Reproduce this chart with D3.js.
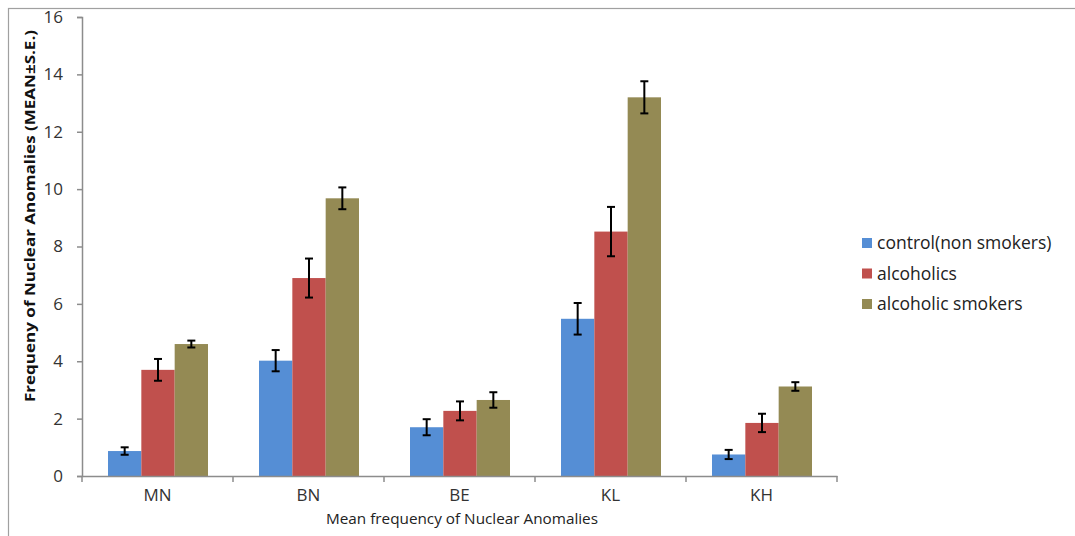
<!DOCTYPE html>
<html>
<head>
<meta charset="utf-8">
<script src="https://cdn.jsdelivr.net/npm/d3@7"></script>
<style>
  body { margin: 0; background: #fff; }
  svg text { font-family: "Open Sans", "Liberation Sans", sans-serif; }
</style>
</head>
<body>
<script>
// categories and series
const categories = ["MN", "BN", "BE", "KL", "KH"];
const seriesNames = ["control(non smokers)", "alcoholics", "alcoholic smokers"];
const controlMean = [0.87, 4.02, 1.70, 5.48, 0.75];
const controlSE = [0.13, 0.37, 0.28, 0.55, 0.16];
const alcoholicsMean = [3.70, 6.90, 2.27, 8.52, 1.85];
const alcoholicsSE = [0.38, 0.68, 0.33, 0.86, 0.32];
const smokersMean = [4.60, 9.68, 2.65, 13.20, 3.12];
const smokersSE = [0.12, 0.38, 0.27, 0.56, 0.15];
const yTicks = [0, 2, 4, 6, 8, 10, 12, 14, 16];
const colors = ["#558ED5", "#C0504D", "#948A54"];

const means = [controlMean, alcoholicsMean, smokersMean];
const errs = [controlSE, alcoholicsSE, smokersSE];

const w = 1075, h = 536;

const svg = d3.select("body").append("svg")
  .attr("width", w).attr("height", h);

// outer frame
svg.append("rect")
  .attr("x", 8.5).attr("y", 8.5)
  .attr("width", w + 10).attr("height", h + 10)
  .attr("fill", "none").attr("stroke", "#a0a0a0").attr("stroke-width", 1.2);

const y = d3.scaleLinear().domain([0, 16]).range([476, 17]);
const x0 = d3.scaleBand().domain(categories).range([82, 837]).padding(0);
const x1 = d3.scaleBand().domain(d3.range(3))
  .range([26, x0.bandwidth() - 25]).padding(0);

// y axis
const yAxis = svg.append("g")
  .attr("transform", "translate(82,0)")
  .call(d3.axisLeft(y).tickValues(yTicks).tickSize(5).tickPadding(14));
yAxis.select(".domain").attr("stroke", "#8c8c8c").attr("stroke-width", 1.5);
yAxis.selectAll(".tick line").attr("stroke", "#8c8c8c").attr("stroke-width", 1.5);
yAxis.selectAll(".tick text").attr("font-size", 17).attr("fill", "#333")
  .attr("font-family", "Open Sans, sans-serif");

// bars
const groups = svg.selectAll(".cat")
  .data(categories)
  .enter().append("g")
  .attr("class", "cat")
  .attr("transform", d => "translate(" + x0(d) + ",0)");

groups.selectAll("rect")
  .data((d, i) => means.map((m, s) => ({s: s, v: m[i], e: errs[s][i]})))
  .enter().append("rect")
  .attr("x", d => x1(d.s))
  .attr("width", x1.bandwidth())
  .attr("y", d => y(d.v))
  .attr("height", d => y(0) - y(d.v))
  .attr("fill", d => colors[d.s]);

// error bars
const eb = groups.selectAll(".err")
  .data((d, i) => means.map((m, s) => ({s: s, v: m[i], e: errs[s][i]})))
  .enter().append("g").attr("class", "err")
  .attr("stroke", "#000").attr("stroke-width", 2);
eb.append("line")
  .attr("x1", d => x1(d.s) + x1.bandwidth() / 2)
  .attr("x2", d => x1(d.s) + x1.bandwidth() / 2)
  .attr("y1", d => y(d.v + d.e)).attr("y2", d => y(d.v - d.e));
[1, -1].forEach(sign => {
  eb.append("line")
    .attr("x1", d => x1(d.s) + x1.bandwidth() / 2 - 4)
    .attr("x2", d => x1(d.s) + x1.bandwidth() / 2 + 4)
    .attr("y1", d => y(d.v + sign * d.e)).attr("y2", d => y(d.v + sign * d.e));
});

// x axis
const xAxis = svg.append("g")
  .attr("transform", "translate(0,476)")
  .call(d3.axisBottom(x0).tickSize(0).tickPadding(13));
xAxis.select(".domain").attr("stroke", "#8c8c8c").attr("stroke-width", 1.5);
xAxis.selectAll(".tick text").attr("font-size", 17).attr("fill", "#333");
svg.append("g").selectAll("line")
  .data(categories.concat(["end"]))
  .enter().append("line")
  .attr("x1", (d, i) => x0.range()[0] + i * x0.step())
  .attr("x2", (d, i) => x0.range()[0] + i * x0.step())
  .attr("y1", 476).attr("y2", 482)
  .attr("stroke", "#8c8c8c").attr("stroke-width", 1.5);

// axis titles
svg.append("text")
  .attr("x", 462).attr("y", 524)
  .attr("text-anchor", "middle")
  .attr("font-size", 15).attr("fill", "#222")
  .attr("textLength", 272).attr("lengthAdjust", "spacingAndGlyphs")
  .text("Mean frequency of Nuclear Anomalies");

svg.append("text")
  .attr("transform", "translate(35,216) rotate(-90)")
  .attr("text-anchor", "middle")
  .attr("font-size", 15).attr("font-weight", "bold").attr("fill", "#111")
  .attr("textLength", 372).attr("lengthAdjust", "spacingAndGlyphs")
  .text("Frequeny of Nuclear Anomalies (MEAN±S.E.)");

// legend
const legend = svg.append("g").attr("transform", "translate(862,243)");
const li = legend.selectAll("g").data(seriesNames).enter().append("g")
  .attr("transform", (d, i) => "translate(0," + i * 30.5 + ")");
li.append("rect")
  .attr("x", 0).attr("y", -5).attr("width", 10).attr("height", 10)
  .attr("fill", (d, i) => colors[i]);
li.append("text")
  .attr("x", 15).attr("y", 6)
  .attr("font-size", 17.5).attr("fill", "#222")
  .text(d => d);
</script>
</body>
</html>
